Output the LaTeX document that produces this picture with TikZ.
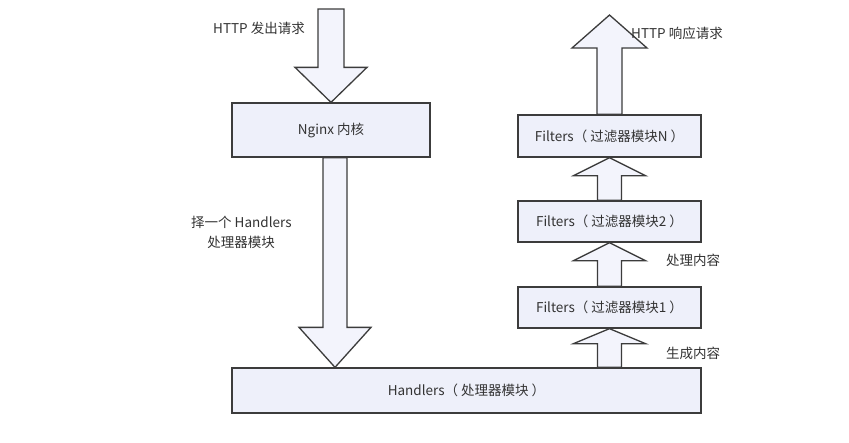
\documentclass[tikz,border=0pt]{standalone}
\usepackage{fontspec}
\setmainfont{Noto Sans CJK SC}
\usetikzlibrary{calc}
\definecolor{edge}{HTML}{3C3C3C}
\definecolor{boxfill}{HTML}{EEF0FA}
\definecolor{arrfill}{HTML}{F3F4FC}
\tikzset{
  box/.style={draw=edge, line width=1.3pt, fill=boxfill, inner sep=0pt,
    font=\fontsize{13.5}{16}\selectfont, text=black!80},
  barrow/.style={draw=edge, line width=1.3pt, fill=arrfill, line join=miter},
  lbl/.style={font=\fontsize{13.5}{16}\selectfont, text=black!80, inner sep=0pt, align=center}
}
% #1 start, #2 tip, #3 shaft half width, #4 head half width, #5 head length
\newcommand\blockarrow[5]{%
  \draw[barrow] let \p1=(#1), \p2=(#2), \p3=($(#2)!#5!(#1)$) in
    (\x1-#3,\y1) -- (\x1-#3,\y3) -- (\x1-#4,\y3) -- (\x1,\y2) --
    (\x1+#4,\y3) -- (\x1+#3,\y3) -- (\x1+#3,\y1) -- cycle;}
\begin{document}
\begin{tikzpicture}[x=1pt,y=-1pt]
\useasboundingbox (0,0) rectangle (849,442);
\fill[white] (0,0) rectangle (849,442);

% boxes
\node[box, minimum width=198pt, minimum height=54pt] (nginx) at (331,130) {Nginx 内核};
\node[box, minimum width=469pt, minimum height=45pt] (hand) at (466.5,390.5) {Handlers（ 处理器模块 ）};
\node[box, minimum width=183pt, minimum height=41pt] (f1) at (609.5,307.5) {Filters（ 过滤器模块1 ）};
\node[box, minimum width=183pt, minimum height=41pt] (f2) at (609.5,221.5) {Filters（ 过滤器模块2 ）};
\node[box, minimum width=183pt, minimum height=42pt] (fn) at (609.5,136) {Filters（ 过滤器模块N ）};

% free ends
\coordinate (in) at (331,9);
\coordinate (out) at (609.5,15);

% arrows
\blockarrow{in}{nginx.north}{13pt}{36pt}{35pt}
\blockarrow{[xshift=4pt]nginx.south}{[xshift=4pt]nginx.south |- hand.north}{12pt}{36pt}{40pt}
\blockarrow{f1.south |- hand.north}{f1.south}{12pt}{36pt}{15pt}
\blockarrow{f1.north}{f2.south}{12pt}{36pt}{18pt}
\blockarrow{f2.north}{fn.south}{12pt}{36pt}{18pt}
\blockarrow{fn.north}{out}{12.5pt}{37.5pt}{33pt}

% labels
\node[lbl] (l1) at (259,28) {HTTP 发出请求};
\node[lbl] (l2) at (677,33) {HTTP 响应请求};
\node[lbl, anchor=west] (l3) at (191,222) {择一个 Handlers};
\node[lbl] (l4) at (241,242) {处理器模块};
\node[lbl] (l5) at (693,260) {处理内容};
\node[lbl] (l6) at (693,353) {生成内容};
\end{tikzpicture}
\end{document}
